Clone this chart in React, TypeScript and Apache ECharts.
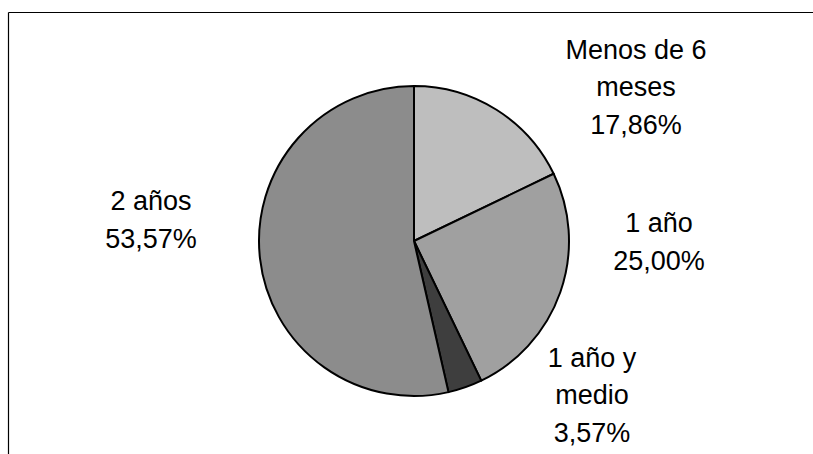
import React, { useEffect, useRef } from "react";
import * as echarts from "echarts";

const categories = ["Menos de 6 meses", "1 año", "1 año y medio", "2 años"];
const labelTexts = ["Menos de 6\nmeses", "1 año", "1 año y\nmedio", "2 años"];
const values = [17.86, 25.0, 3.57, 53.57];
const sliceColors = ["#bebebe", "#a0a0a0", "#3e3e3e", "#8c8c8c"];
const labelPositions: [number, number][] = [
  [636, 87],
  [659, 242],
  [592, 395],
  [151, 220],
];

export default function App() {
  const ref = useRef<HTMLDivElement>(null);
  useEffect(() => {
    document.body.style.margin = "0";
    const chart = echarts.init(ref.current!, null, { renderer: "svg" });
    chart.setOption({
      animation: false,
      backgroundColor: "#ffffff",
      graphic: [
        {
          type: "line",
          shape: { x1: 8.5, y1: 12.5, x2: 813, y2: 12.5 },
          style: { stroke: "#000", lineWidth: 1.2 },
          silent: true,
        },
        {
          type: "line",
          shape: { x1: 8.5, y1: 12.5, x2: 8.5, y2: 454 },
          style: { stroke: "#000", lineWidth: 1.2 },
          silent: true,
        },
      ],
      series: [
        {
          type: "pie",
          center: [414, 241],
          radius: 155,
          startAngle: 90,
          clockwise: true,
          silent: true,
          data: categories.map((c, i) => ({
            name: c,
            value: values[i],
            itemStyle: { color: sliceColors[i] },
          })),
          itemStyle: { borderColor: "#000", borderWidth: 2 },
          label: {
            show: true,
            position: "outside",
            formatter: (p: any) =>
              `${labelTexts[p.dataIndex]}\n${values[p.dataIndex].toFixed(2).replace(".", ",")}%`,
            fontFamily: "Liberation Sans, Arial, sans-serif",
            fontSize: 27,
            lineHeight: 37.5,
            color: "#000",
            align: "center",
          },
          labelLine: { show: false },
          labelLayout: (params: any) => {
            const pos = labelPositions[params.dataIndex];
            return { x: pos[0], y: pos[1], align: "center", verticalAlign: "middle" };
          },
        },
      ],
    });
    return () => chart.dispose();
  }, []);
  return <div ref={ref} style={{ width: 813, height: 454 }} />;
}
